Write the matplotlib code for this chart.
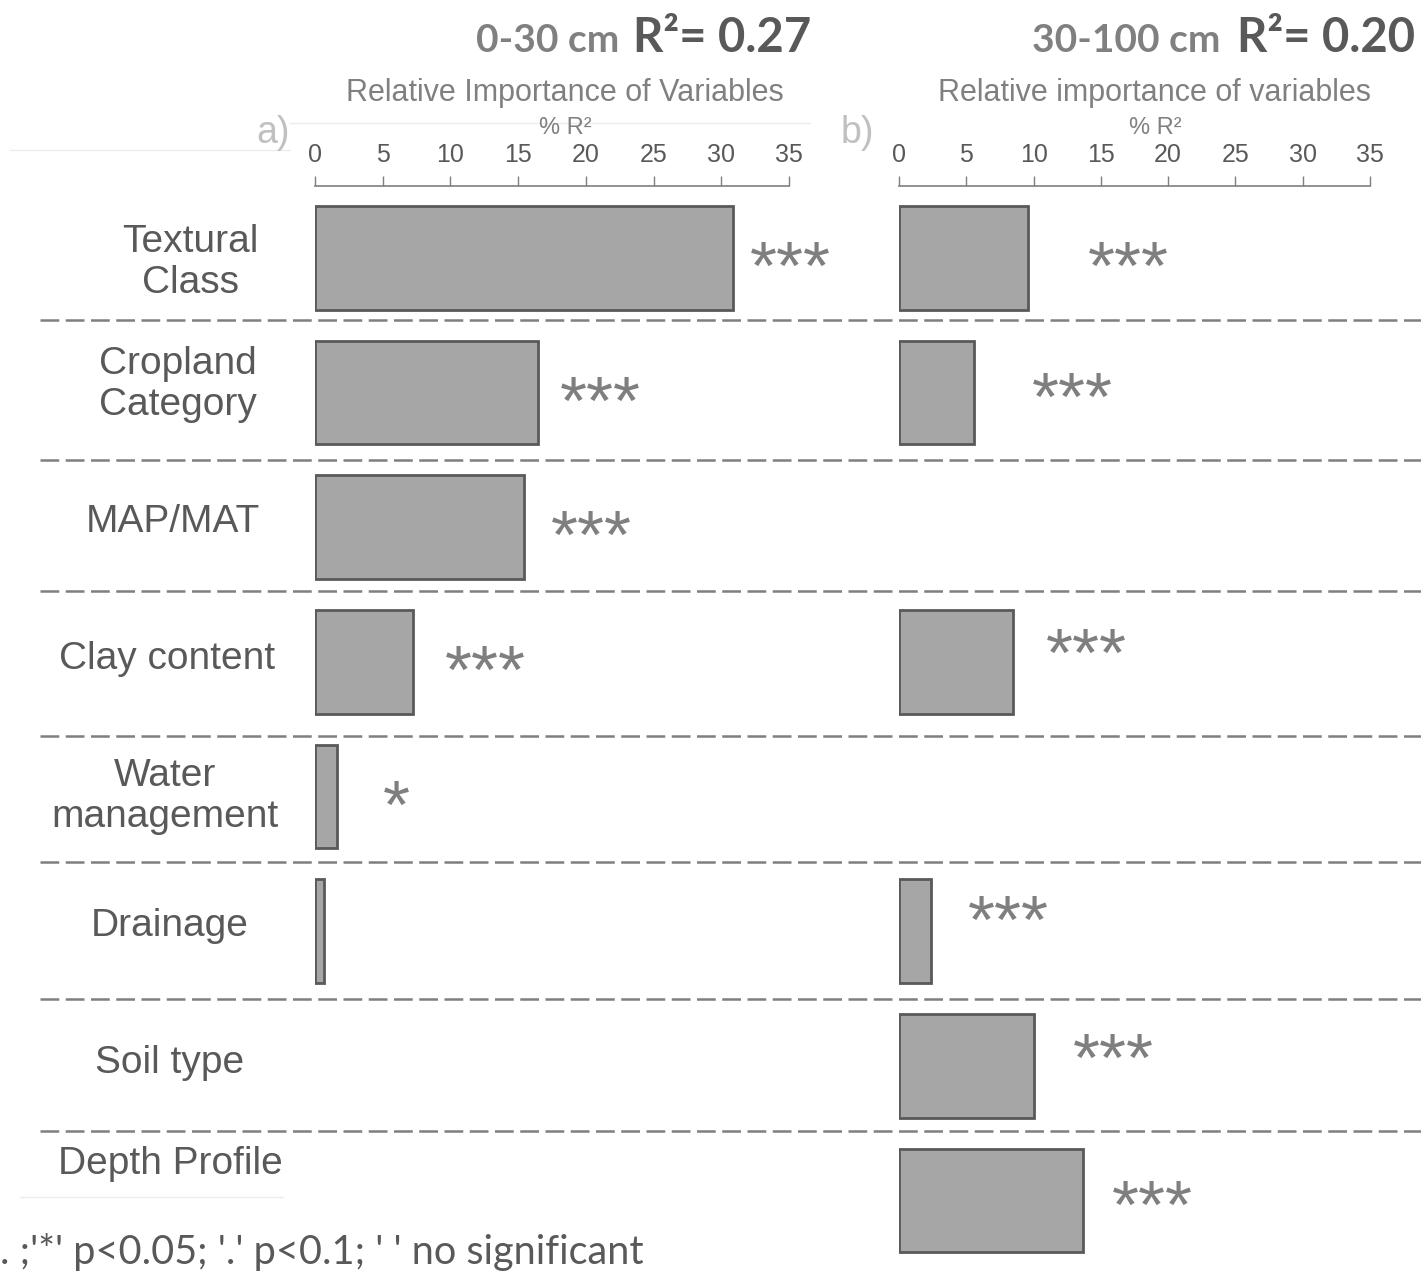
import matplotlib

matplotlib.use("Agg")
import matplotlib.pyplot as plt
import numpy as np
from matplotlib.lines import Line2D
from matplotlib.transforms import blended_transform_factory

W, H = 1421, 1271

variables = [
    "Textural\nClass",
    "Cropland\nCategory",
    "MAP/MAT",
    "Clay content",
    "Water\nmanagement",
    "Drainage",
    "Soil type",
    "Depth Profile",
]
# relative importance (% of R2) per depth, nan = variable not in the model
topsoil_imp = [30.9, 16.5, 15.4, 7.2, 1.6, 0.7, np.nan, np.nan]
subsoil_imp = [9.6, 5.6, np.nan, 8.5, np.nan, 2.4, 10.0, 13.7]
topsoil_sig = ["***", "***", "***", "***", "*", "", "", ""]
subsoil_sig = ["***", "***", "", "***", "", "***", "***", "***"]
ticks = [0, 5, 10, 15, 20, 25, 30, 35]

# where the significance marks sit (x in % R2, y shift in rows)
topsoil_star_x = [32.1, 18.1, 17.4, 9.6, 5.0, 0, 0, 0]
subsoil_star_x = [14.0, 9.9, 0, 10.9, 0, 5.1, 12.9, 15.8]
subsoil_star_dy = [0, -0.03, 0, -0.13, 0, -0.14, -0.12, -0.03]

# label centre (px) and row shift of the variable names
label_x = [190, 178, 173, 167, 165, 170, 170, 170]
label_shift = [0.03, -0.06, -0.04, -0.02, 0, -0.04, -0.02, -0.27]
sep_rows = [0.457, 1.497, 2.471, 3.548, 4.485, 5.503, 6.484]

DARK = "#595959"
MID = "#7f7f7f"
LABEL_FONT = "Liberation Sans"
HEAD_FONT = "Lato"


def fx(px):
    return px / W


def fy(py):
    return 1 - py / H


fig = plt.figure(figsize=(W / 100, H / 100), dpi=100)
fig.patch.set_facecolor("white")

row_top = (186 - 258) / 134.64
row_bottom = (H - 258) / 134.64


def make_panel(x0, x1, xc, values, sig, star_x, star_dy, letter, title_axis):
    ax = fig.add_axes([fx(x0), 0, fx(x1) - fx(x0), fy(186)])
    rows = np.arange(len(values))
    vals = np.array(values, dtype=float)
    keep = ~np.isnan(vals)
    ax.barh(rows[keep], vals[keep], height=0.77, color="#a6a6a6",
            edgecolor=DARK, linewidth=2.0)
    for i, s in enumerate(sig):
        if s:
            ax.text(star_x[i], i + star_dy[i] + 0.23, s, ha="left", va="baseline",
                    fontsize=50, color=MID, family=LABEL_FONT)
    ax.set_xlim(0, 35)
    ax.set_ylim(row_bottom, row_top)
    ax.xaxis.tick_top()
    ax.set_xticks(ticks)
    ax.set_xticklabels([str(t) for t in ticks], family=LABEL_FONT, fontsize=18,
                       color=DARK)
    ax.tick_params(axis="x", direction="out", length=7, width=1, color=MID, pad=7)
    ax.set_yticks([])
    for side in ("bottom", "left", "right"):
        ax.spines[side].set_visible(False)
    ax.spines["top"].set_color(MID)
    ax.spines["top"].set_linewidth(1.2)
    ax.patch.set_alpha(0)

    fig.text(fx(xc), fy(93), title_axis, ha="center", va="center",
             family=LABEL_FONT, fontsize=22, color="#808080")
    fig.text(fx(xc), fy(128), "% R²", ha="center", va="center",
             family=LABEL_FONT, fontsize=17, color="#808080")
    fig.text(fx(x0 - 25), fy(133), letter, ha="right", va="center",
             family=LABEL_FONT, fontsize=27, color="#c0c0c0")
    return ax


ax_a = make_panel(315, 789, 565, topsoil_imp, topsoil_sig, topsoil_star_x,
                  [0] * 8, "a)", "Relative Importance of Variables")
ax_b = make_panel(899, 1370, 1155, subsoil_imp, subsoil_sig, subsoil_star_x,
                  subsoil_star_dy, "b)", "Relative importance of variables")

# variable names and dashed separators, rows follow panel a
trans = blended_transform_factory(fig.transFigure, ax_a.transData)
for i, (name, xl, dr) in enumerate(zip(variables, label_x, label_shift)):
    fig.text(fx(xl), i + dr, name, transform=trans, ha="center", va="center",
             family=LABEL_FONT, fontsize=28, color=DARK, linespacing=1.18)
for r in sep_rows:
    fig.add_artist(Line2D([fx(40), 1.0], [r, r], transform=trans, color=MID,
                          linewidth=1.8, linestyle=(0, (7.5, 2.6))))

# depth headers
for right, depth, r2, start in [(619, "0-30 cm", "R²= 0.27", 633),
                                (1220, "30-100 cm", "R²= 0.20", 1237)]:
    fig.text(fx(right), fy(52), depth, ha="right", va="baseline",
             family=HEAD_FONT, weight="bold", fontsize=28, color="#808080")
    fig.text(fx(start), fy(52), r2, ha="left", va="baseline",
             family=HEAD_FONT, weight="bold", fontsize=34, color=DARK)

# faint frame edges around the pasted panels
faint = "#ececec"
for xs, ys in [([10, 290], [150, 150]), ([290, 810], [123, 123]),
               ([20, 283], [1197, 1197])]:
    fig.add_artist(Line2D([fx(x) for x in xs], [fy(y) for y in ys],
                          transform=fig.transFigure, color=faint, linewidth=1))

fig.text(fx(0), fy(1264), ". ;'*' p<0.05; '.' p<0.1; ' ' no significant",
         ha="left", va="baseline", family=HEAD_FONT, fontsize=28.5, color=DARK)

fig.savefig("out.png", dpi=100, facecolor="white")
